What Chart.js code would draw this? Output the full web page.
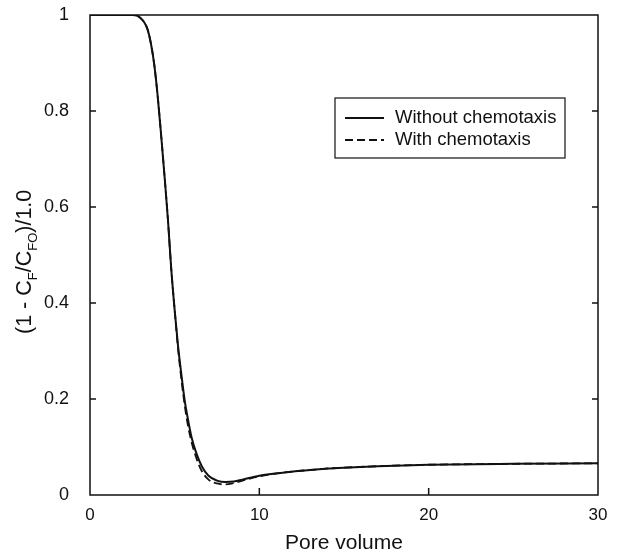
<!DOCTYPE html>
<html>
<head>
<meta charset="utf-8">
<script src="https://cdn.jsdelivr.net/npm/chart.js@4.4.1/dist/chart.umd.min.js"></script>
<style>
  html, body { margin: 0; padding: 0; background: #fff; }
</style>
</head>
<body>
<canvas id="poreChart" width="621" height="556"></canvas>
<script>
// Pore volume (x) and normalised effluent concentration (1 - CF/CFO)
const poreVolume = [0, 1, 2, 2.5, 2.8, 3.0, 3.2, 3.4, 3.6, 3.8, 4.0, 4.2, 4.4, 4.6, 4.8, 5.0, 5.2, 5.4, 5.6, 5.8, 6.0, 6.3, 6.6, 7.0, 7.5, 8.0, 8.5, 9, 10, 11, 12, 13, 14, 15, 17, 20, 25, 30];
const withoutChemotaxis = [1, 1, 1, 1, 0.998, 0.993, 0.985, 0.97, 0.94, 0.895, 0.83, 0.75, 0.665, 0.575, 0.47, 0.385, 0.31, 0.25, 0.195, 0.155, 0.12, 0.085, 0.06, 0.04, 0.03, 0.027, 0.028, 0.032, 0.04, 0.045, 0.049, 0.052, 0.055, 0.057, 0.06, 0.063, 0.065, 0.066];
const withChemotaxis = [1, 1, 1, 1, 0.998, 0.993, 0.985, 0.97, 0.94, 0.895, 0.83, 0.75, 0.665, 0.575, 0.47, 0.385, 0.305, 0.24, 0.185, 0.142, 0.11, 0.075, 0.05, 0.032, 0.024, 0.022, 0.025, 0.03, 0.039, 0.045, 0.049, 0.052, 0.055, 0.057, 0.06, 0.063, 0.065, 0.066];
const xTicks = [0, 10, 20, 30];
const yTicks = [0, 0.2, 0.4, 0.6, 0.8, 1];

const FONT = '"Liberation Sans", Arial, Helvetica, sans-serif';
const INK = '#111';

const toPoints = ys => poreVolume.map((x, i) => ({ x: x, y: ys[i] }));

// box round the plot plus inward tick marks (left, right, bottom)
const frameAndTicks = {
  id: 'frameAndTicks',
  afterDatasetsDraw(chart) {
    const { ctx, chartArea: a, scales: { x, y } } = chart;
    ctx.save();
    ctx.strokeStyle = INK;
    ctx.lineWidth = 1.5;
    ctx.strokeRect(a.left, a.top, a.right - a.left, a.bottom - a.top);
    ctx.beginPath();
    yTicks.slice(1, -1).forEach(v => {
      const py = y.getPixelForValue(v);
      ctx.moveTo(a.left, py); ctx.lineTo(a.left + 6, py);
      ctx.moveTo(a.right, py); ctx.lineTo(a.right - 6, py);
    });
    xTicks.slice(1, -1).forEach(v => {
      const px = x.getPixelForValue(v);
      ctx.moveTo(px, a.bottom); ctx.lineTo(px, a.bottom - 7);
    });
    ctx.stroke();
    ctx.restore();
  }
};

// y title with subscripts, drawn rotated
const yTitle = {
  id: 'yTitle',
  afterDraw(chart) {
    const { ctx } = chart;
    const big = '21.5px ' + FONT, small = '13px ' + FONT;
    const parts = [['(1 - C', big, 0], ['F', small, 6], ['/C', big, 0], ['FO', small, 6], [')/1.0', big, 0]];
    ctx.save();
    ctx.translate(31, 334);
    ctx.rotate(-Math.PI / 2);
    ctx.fillStyle = INK;
    ctx.textBaseline = 'alphabetic';
    let pos = 0;
    parts.forEach(([t, f, dy]) => {
      ctx.font = f;
      ctx.fillText(t, pos, dy);
      pos += ctx.measureText(t).width;
    });
    ctx.restore();
  }
};

// boxed legend inside the plot
const boxLegend = {
  id: 'boxLegend',
  afterDraw(chart) {
    const { ctx } = chart;
    ctx.save();
    ctx.strokeStyle = INK;
    ctx.lineWidth = 1.2;
    ctx.strokeRect(335, 98, 230, 60);
    chart.data.datasets.forEach((ds, i) => {
      const yy = 118 + i * 22;
      ctx.setLineDash(ds.borderDash || []);
      ctx.lineWidth = ds.borderWidth;
      ctx.strokeStyle = ds.borderColor;
      ctx.beginPath();
      ctx.moveTo(345, yy);
      ctx.lineTo(384, yy);
      ctx.stroke();
      ctx.setLineDash([]);
      ctx.fillStyle = INK;
      ctx.font = '18.5px ' + FONT;
      ctx.textBaseline = 'middle';
      ctx.fillText(ds.label, 395, yy);
    });
    ctx.restore();
  }
};

new Chart(document.getElementById('poreChart'), {
  type: 'line',
  data: {
    datasets: [{
      label: 'Without chemotaxis',
      data: toPoints(withoutChemotaxis),
      borderColor: INK,
      borderWidth: 2,
      pointRadius: 0,
      cubicInterpolationMode: 'monotone'
    }, {
      label: 'With chemotaxis',
      data: toPoints(withChemotaxis),
      borderColor: INK,
      borderWidth: 1.8,
      borderDash: [8, 4],
      pointRadius: 0,
      cubicInterpolationMode: 'monotone'
    }]
  },
  options: {
    responsive: false,
    animation: false,
    devicePixelRatio: 1,
    layout: { padding: { left: 0, top: 15, right: 23, bottom: 0 } },
    plugins: {
      legend: { display: false },
      tooltip: { enabled: false }
    },
    scales: {
      x: {
        type: 'linear',
        min: 0,
        max: 30,
        afterBuildTicks: s => { s.ticks = xTicks.map(v => ({ value: v })); },
        afterFit: s => { s.height = 61; s.paddingLeft = 0; s.paddingRight = 0; },
        grid: { display: false },
        border: { display: false },
        ticks: { color: INK, font: { family: FONT, size: 17 }, padding: 2, maxRotation: 0 },
        title: {
          display: true,
          text: 'Pore volume',
          color: INK,
          font: { family: FONT, size: 21, lineHeight: 1 },
          padding: { top: 0, bottom: 2 }
        }
      },
      y: {
        min: 0,
        max: 1,
        afterBuildTicks: s => { s.ticks = yTicks.map(v => ({ value: v })); },
        afterFit: s => { s.width = 90; s.paddingTop = 0; s.paddingBottom = 0; },
        grid: { display: false },
        border: { display: false },
        ticks: { color: INK, font: { family: FONT, size: 18 }, padding: 13, callback: v => String(v) }
      }
    }
  },
  plugins: [frameAndTicks, yTitle, boxLegend]
});
</script>
</body>
</html>
